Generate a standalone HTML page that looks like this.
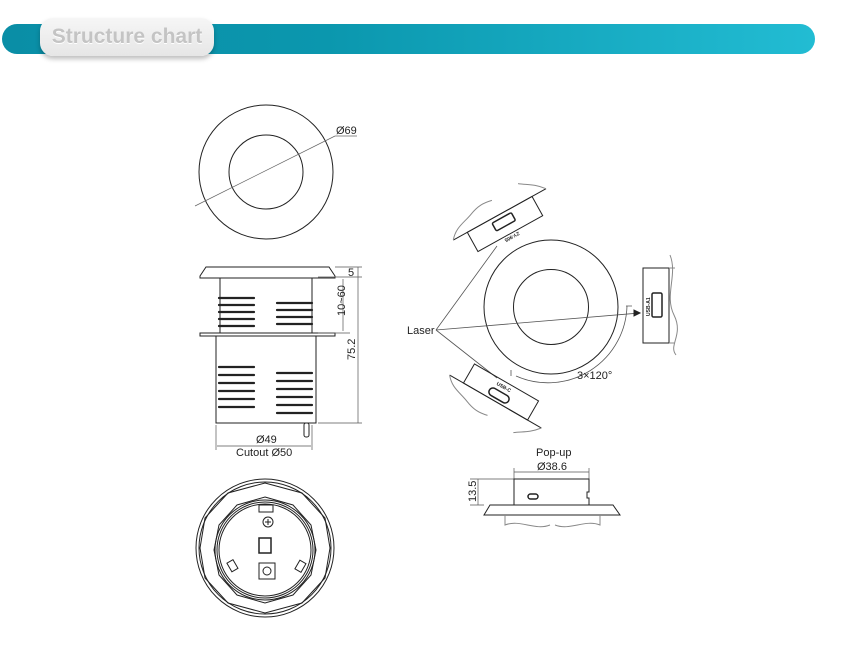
<!DOCTYPE html>
<html><head><meta charset="utf-8"><style>
body{margin:0;background:#fff;width:850px;height:648px;overflow:hidden;font-family:"Liberation Sans",sans-serif}
.bar{position:absolute;left:2px;top:24px;width:813px;height:30px;border-radius:15px;background:linear-gradient(90deg,#0a8ea6 0%,#0b97ae 40%,#22bcd3 100%)}
.tag{position:absolute;left:40px;top:18px;width:174px;height:38px;border-radius:13px;background:linear-gradient(#f6f6f6,#e6e6e6);box-shadow:0 3px 5px rgba(0,0,0,.25);color:#c4c4c4;font-size:21px;font-weight:bold;line-height:38px;text-align:center;text-shadow:0 1px 0 #fff}
svg{position:absolute;left:0;top:0}
</style></head><body>
<div class="bar"></div><div class="tag">Structure chart</div>
<svg width="850" height="648" viewBox="0 0 850 648" fill="none" stroke="#222" stroke-width="1" font-family="Liberation Sans, sans-serif" font-size="11">
<!-- top view -->
<circle cx="266" cy="172" r="67"/><circle cx="266" cy="172" r="37"/>
<line x1="195" y1="206" x2="335" y2="136" stroke="#666" stroke-width=".7"/>
<line x1="335" y1="136" x2="357" y2="136" stroke="#666" stroke-width=".7"/>
<text x="336" y="134" fill="#222" stroke="none">Ø69</text>
<!-- side view -->
<path d="M206 267 H329 L335 276 V278 H200 V276 Z"/>
<rect x="220" y="278" width="92" height="55"/>
<rect x="200" y="333" width="135" height="3"/>
<rect x="216" y="336" width="100" height="87"/>
<g stroke-width="2.2" stroke-linecap="round">
<path d="M219 298h35M219 305h35M219 312h35M219 319h35M219 326h35M277 303h35M277 310h35M277 317h35M277 324h35"/>
<path d="M219 367h35M219 375h35M219 383h35M219 391h35M219 399h35M219 407h35M277 373h35M277 381h35M277 389h35M277 397h35M277 405h35M277 413h35"/>
</g>
<rect x="304" y="423" width="5" height="14" rx="2"/>
<g stroke="#555" stroke-width=".7">
<path d="M335 267H362M318 277H362M318 333H350M318 423H362M358 267V423M343 279V331M216 425V450M312 425V450M217 446H311"/>
</g>
<text x="348" y="276" fill="#222" stroke="none">5</text>
<text transform="translate(345 316) rotate(-90)" fill="#222" stroke="none">10~60</text>
<text transform="translate(355 360) rotate(-90)" fill="#222" stroke="none">75.2</text>
<text x="256" y="443" fill="#222" stroke="none">Ø49</text>
<text x="236" y="456" fill="#222" stroke="none">Cutout  Ø50</text>
<!-- bottom view -->
<circle cx="265" cy="548" r="69"/><circle cx="265" cy="548" r="66"/>
<polygon points="265,483 302,493 325,518 330,548 325,578 302,603 265,613 228,603 205,578 200,548 205,518 228,493"/>
<circle cx="265" cy="550" r="50"/><circle cx="265" cy="550" r="48"/><circle cx="265" cy="550" r="46"/>
<polygon points="265,497 293,505 311,525 316,550 311,575 293,595 265,603 237,595 219,575 214,550 219,525 237,505"/>
<rect x="259" y="505" width="14" height="7"/>
<circle cx="268" cy="522" r="5"/><path d="M265 522h6M268 519v6"/>
<rect x="259" y="538" width="12" height="15" stroke-width="1.5"/>
<rect x="259" y="563" width="16" height="16"/><circle cx="267" cy="571" r="4"/>
<rect x="229" y="561" width="7" height="10" transform="rotate(-30 232 566)"/>
<rect x="297" y="561" width="7" height="10" transform="rotate(30 300 566)"/>
<!-- right diagram -->
<circle cx="551" cy="307" r="67"/><circle cx="551" cy="307" r="37.5"/>
<g stroke="#555" stroke-width=".8">
<path d="M436 330L497 246M436 330L640 313M436 330L497 378"/>
<path d="M627 306A79 79 0 0 1 516 376" />
<path d="M626 306H632M511 370V376"/>
</g>
<path d="M640 313l-6 -3v6z" fill="#222"/>
<text x="407" y="334" fill="#222" stroke="none">Laser</text>
<text x="577" y="379" fill="#222" stroke="none">3×120°</text>
<!-- right module -->
<rect x="643" y="268" width="26" height="75"/>
<path d="M669 268h6M669 343h6M670 255c8 20 -6 40 4 60s-6 30 2 40" stroke="#888"/>
<rect x="652" y="293" width="10" height="24" rx="1.5" stroke-width="1.5"/>
<text transform="translate(650 316) rotate(-90)" font-size="5" font-weight="bold" fill="#222" stroke="none">USB-A1</text>
<!-- top module -->
<g transform="translate(505 224) rotate(-29)">
<rect x="-37" y="-11" width="74" height="22"/>
<path d="M-53 -11H53"/>
<path d="M-53 -11c8 -10 18 -10 28 -14s16 -4 25 -2M53 -11c-8 -10 -14 -12 -22 -18" stroke="#888"/>
<rect x="-11" y="-7" width="22" height="9" rx="1.5" stroke-width="1.5"/>
<text x="0" y="-3" font-size="5" font-weight="bold" fill="#222" stroke="none" text-anchor="middle" transform="rotate(180 0 5)">ZY-905</text>
</g>
<!-- bottom module -->
<g transform="translate(501 392) rotate(30)">
<rect x="-37" y="-11" width="74" height="22"/>
<path d="M-53 11H53"/>
<path d="M-53 11c8 10 18 10 28 14s16 4 25 2M53 11c-8 10 -14 12 -22 18" stroke="#888"/>
<rect x="-11" y="0" width="22" height="8" rx="4" stroke-width="1.5"/>
<text x="0" y="-4" font-size="5" font-weight="bold" fill="#222" stroke="none" text-anchor="middle">USB-C</text>
</g>
<!-- pop-up -->
<text x="536" y="456" fill="#222" stroke="none">Pop-up</text>
<text x="537" y="470" fill="#222" stroke="none">Ø38.6</text>
<g stroke="#555" stroke-width=".7"><path d="M514 472H589M514 468V480M589 468V480M470 479H514M470 505H484M478 479V505"/></g>
<text transform="translate(476 502) rotate(-90)" fill="#222" stroke="none">13.5</text>
<path d="M514 479H589V492h-2v6h2V505H514Z"/>
<rect x="528" y="494" width="10" height="5" rx="2.5" stroke-width="1.5"/>
<path d="M490 505H613L620 515H484Z"/>
<path d="M505 515V525c15 -6 30 6 45 0M600 515V525c-15 -6 -30 6 -45 0" stroke="#888"/>
</svg>
</body></html>
